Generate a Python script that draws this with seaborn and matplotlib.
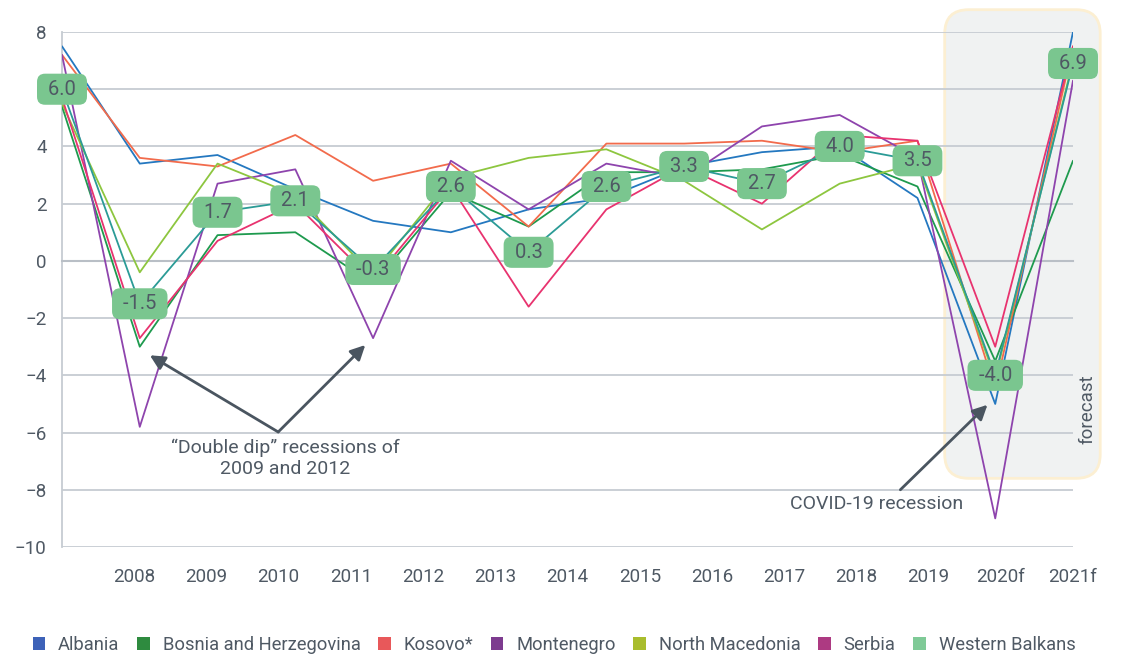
import numpy as np
import pandas as pd
import matplotlib.pyplot as plt
import seaborn as sns
from matplotlib.patches import FancyBboxPatch, Patch
from matplotlib.transforms import IdentityTransform

# real GDP growth, %
years = ["2008", "2009", "2010", "2011", "2012", "2013", "2014",
         "2015", "2016", "2017", "2018", "2019", "2020f", "2021f"]
albania = [7.5, 3.4, 3.7, 2.5, 1.4, 1.0, 1.8, 2.2, 3.3, 3.8, 4.0, 2.2, -5.0, 8.0]
bosnia = [5.4, -3.0, 0.9, 1.0, -0.8, 2.4, 1.2, 3.1, 3.1, 3.2, 3.7, 2.6, -3.5, 3.5]
kosovo = [7.2, 3.6, 3.3, 4.4, 2.8, 3.4, 1.2, 4.1, 4.1, 4.2, 3.8, 4.2, -4.5, 7.5]
montenegro = [7.2, -5.8, 2.7, 3.2, -2.7, 3.5, 1.8, 3.4, 2.9, 4.7, 5.1, 3.6, -9.0, 6.3]
n_macedonia = [5.5, -0.4, 3.4, 2.3, -0.5, 2.9, 3.6, 3.9, 2.8, 1.1, 2.7, 3.4, -4.1, 7.0]
serbia = [5.7, -2.7, 0.7, 2.0, -0.7, 2.6, -1.6, 1.8, 3.3, 2.0, 4.4, 4.2, -3.0, 7.5]
w_balkans = [6.0, -1.5, 1.7, 2.1, -0.3, 2.6, 0.3, 2.6, 3.3, 2.7, 4.0, 3.5, -4.0, 6.9]

countries = ["Albania", "Bosnia and Herzegovina", "Kosovo*", "Montenegro",
             "North Macedonia", "Serbia", "Western Balkans"]
line_colors = ["#2478c0", "#1e9a4e", "#f26b4c", "#8e44ad",
               "#8dc63f", "#e8336f", "#2b9b96"]
legend_colors = ["#3d62b8", "#2e8b3f", "#e8585a", "#7d3b8f",
                 "#a9bd2d", "#ad3a82", "#7fca97"]

series = [albania, bosnia, kosovo, montenegro, n_macedonia, serbia, w_balkans]
wide = pd.DataFrame(dict(zip(countries, series)))
wide["pos"] = np.arange(len(years))
df = wide.melt(id_vars="pos", var_name="country", value_name="growth")

sns.set_style("white")
plt.rcParams["font.family"] = ["Roboto", "DejaVu Sans"]

text_col = "#4f5964"
grid_col = "#c6ccd2"

fig = plt.figure(figsize=(11.41, 6.57), dpi=100)
ax = fig.add_axes([62 / 1141, 1 - 547 / 657, (1073 - 62) / 1141, 515 / 657])

ax.set_xlim(0, len(years) - 1)
ax.set_ylim(-10, 8)

sns.lineplot(data=df, x="pos", y="growth", hue="country", hue_order=countries,
             palette=dict(zip(countries, line_colors)), linewidth=1.3,
             legend=False, ax=ax, zorder=3)

# y axis + grid
ax.set_yticks(range(-10, 9, 2))
ax.yaxis.grid(True, color=grid_col, lw=1.3)
ax.set_axisbelow(True)
ax.tick_params(axis="y", length=0, pad=11, labelsize=13.5, labelcolor=text_col)
for s in ["top", "right"]:
    ax.spines[s].set_visible(False)
ax.spines["left"].set_color(grid_col)
ax.spines["left"].set_linewidth(1.3)

# category ticks sit on the zero line, labels at the bottom
n = len(years)
tick_pos = np.arange(n + 1) * (n - 1) / n
ax.spines["bottom"].set_position(("data", 0))
ax.spines["bottom"].set_color("#b9bfc6")
ax.spines["bottom"].set_linewidth(1.5)
ax.set_xticks(tick_pos)
ax.tick_params(axis="x", length=9, width=1.3, color="#c6ccd2", labelbottom=False)
ax.set_xlabel("")
ax.set_ylabel("")

sec = ax.secondary_xaxis("bottom")
sec.set_xticks(tick_pos, [""] + years)
sec.tick_params(length=0, pad=15, labelsize=13.5, labelcolor=text_col)
sec.spines["bottom"].set_visible(False)

# forecast band
fig.canvas.draw()
(x0, y0), (x1, y1) = ax.transData.transform([(11.35, -7.6), (13.35, 8.78)])
band = FancyBboxPatch((x0, y0), x1 - x0, y1 - y0,
                      boxstyle="round,pad=0,rounding_size=24",
                      transform=IdentityTransform(), fc="#f0f2f2",
                      ec="#fcefd2", lw=2, zorder=0.2, clip_on=False)
ax.add_artist(band)
ax.text(13.19, -5.2, "forecast", rotation=90, ha="center", va="center",
        fontsize=13.5, color=text_col, zorder=4)

# Western Balkans labels
for i, v in enumerate(w_balkans):
    ax.text(i, v, f" {v:.1f} ", ha="center", va="center", fontsize=14.5,
            color=text_col, zorder=6, clip_on=False,
            bbox=dict(boxstyle="round,pad=0.3,rounding_size=0.4",
                      fc="#7ac68f", ec="none"))

# annotations
arrow = dict(arrowstyle="-|>", color="#4a5560", lw=2, mutation_scale=22,
             shrinkA=0, shrinkB=0)
ax.annotate("", xy=(1.13, -3.3), xytext=(2.78, -5.98), arrowprops=arrow)
ax.annotate("", xy=(3.9, -2.94), xytext=(2.78, -5.98), arrowprops=arrow)
ax.text(2.87, -6.2, "\u201cDouble dip\u201d recessions of\n2009 and 2012",
        ha="center", va="top", fontsize=14, color=text_col, linespacing=1.25)
ax.annotate("", xy=(11.9, -5.03), xytext=(10.78, -8.0), arrowprops=arrow)
ax.text(10.48, -8.5, "COVID-19 recession", ha="center", va="center",
        fontsize=14, color=text_col)

handles = [Patch(fc=c, ec="none") for c in legend_colors]
fig.legend(handles, countries, loc="lower left", bbox_to_anchor=(16 / 1141, -0.02),
           ncol=7, frameon=False, fontsize=13.2, handlelength=0.7,
           handleheight=0.7, handletextpad=0.7, columnspacing=0.95,
           labelcolor=text_col)

fig.savefig("out.png", dpi=100)
plt.close(fig)
